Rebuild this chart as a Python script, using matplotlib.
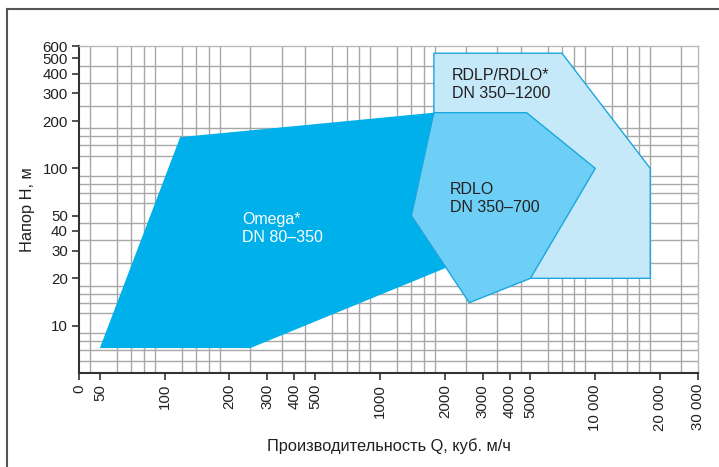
"""Pump selection chart: head vs flow for Omega, RDLO and RDLP/RDLO ranges."""

import matplotlib
matplotlib.use("Agg")
import matplotlib.pyplot as plt
from matplotlib.patches import Polygon
from matplotlib.lines import Line2D
from matplotlib.ticker import NullFormatter

plt.rcParams["font.family"] = ["Liberation Sans", "DejaVu Sans"]

# flow Q (m3/h) and head H (m) of each range outline
omega_q = [50, 250, 2230, 1780, 118]
omega_h = [7.2, 7.2, 24.6, 226, 158]

rdlo_q = [1780, 4800, 10000, 5000, 2600, 1400]
rdlo_h = [226, 226, 100, 20, 14, 50]

rdlp_q = [1780, 7000, 18000, 18000, 5000, 1780]
rdlp_h = [540, 540, 100, 20, 20, 226]

x_ticks = [40, 50, 100, 200, 300, 400, 500, 1000, 2000, 3000, 4000, 5000,
           10000, 20000, 30000]
x_labels = ["0", "50", "100", "200", "300", "400", "500", "1000", "2000",
            "3000", "4000", "5000", "10 000", "20 000", "30 000"]
y_ticks = [10, 20, 30, 40, 50, 100, 200, 300, 400, 500, 600]
y_labels = [str(v) for v in y_ticks]

x_grid = [45, 50, 60, 70, 80, 90, 100, 120, 140, 160, 180, 200, 250, 300,
          350, 400, 450, 500, 600, 700, 800, 900, 1000, 1200, 1400, 1600,
          1800, 2000, 2500, 3000, 3500, 4000, 4500, 5000, 6000, 7000, 8000,
          9000, 10000, 12000, 14000, 16000, 18000, 20000, 25000, 30000]
y_grid = [6, 7, 8, 9, 10, 12, 14, 16, 18, 20, 25, 30, 35, 40, 45, 50, 60,
          70, 80, 90, 100, 120, 140, 160, 180, 200, 250, 300, 350, 400, 450,
          500, 600]

text_col = "#231f20"
edge_col = "#1ba6df"

fig = plt.figure(figsize=(7.19, 4.67), dpi=100)
ax = fig.add_axes([79 / 719, 94 / 467, 619 / 719, 327 / 467])
ax.set_xscale("log")
ax.set_yscale("log")
ax.set_xlim(40, 30000)
ax.set_ylim(5, 600)

# grid
ax.set_xticks(x_grid, minor=True)
ax.set_yticks(y_grid, minor=True)
ax.xaxis.set_minor_formatter(NullFormatter())
ax.yaxis.set_minor_formatter(NullFormatter())
ax.grid(which="minor", color="#a8a8a8", linewidth=1.0, zorder=0)
ax.tick_params(which="minor", length=0)
ax.set_axisbelow(True)

ax.set_xticks(x_ticks)
ax.set_xticklabels(x_labels, rotation=90)
ax.set_yticks(y_ticks)
ax.set_yticklabels(y_labels)
ax.tick_params(which="major", length=5, width=1.2, color="#333333",
               labelsize=10.8, labelcolor=text_col, pad=3)

for s in ["top", "right"]:
    ax.spines[s].set_color("#b8b8b8")
    ax.spines[s].set_linewidth(1.0)
for s in ["left", "bottom"]:
    ax.spines[s].set_color("#333333")
    ax.spines[s].set_linewidth(1.5)

# ranges
ax.add_patch(Polygon(list(zip(rdlp_q, rdlp_h)), closed=True,
                     facecolor="#c6e9f9", edgecolor=edge_col, lw=1.0, zorder=2))
ax.add_patch(Polygon(list(zip(omega_q, omega_h)), closed=True,
                     facecolor="#00b0eb", edgecolor="none", zorder=3))
ax.add_patch(Polygon(list(zip(rdlo_q, rdlo_h)), closed=True,
                     facecolor="#6dcff6", edgecolor=edge_col, lw=1.0, zorder=4))

ax.text(0.263, 0.4425, "Omega*\nDN 80–350", transform=ax.transAxes,
        color="white", fontsize=11.5, va="center", ha="left", zorder=5,
        linespacing=1.25)
ax.text(0.602, 0.882, "RDLP/RDLO*\nDN 350–1200", transform=ax.transAxes,
        color=text_col, fontsize=11.5, va="center", ha="left", zorder=5,
        linespacing=1.25)
ax.text(0.599, 0.534, "RDLO\nDN 350–700", transform=ax.transAxes,
        color=text_col, fontsize=11.5, va="center", ha="left", zorder=5,
        linespacing=1.25)

ax.set_xlabel("Производительность Q, куб. м/ч", fontsize=11.8, color=text_col)
ax.set_ylabel("Напор H, м", fontsize=11.8, color=text_col)
ax.xaxis.set_label_coords(0.5, -0.199)
ax.yaxis.set_label_coords(-0.071, 0.5)

# outer frame (left and top edges only)
fig.add_artist(Line2D([7 / 719, 7 / 719], [0, 1 - 9 / 467],
                      color="#555555", lw=1.5))
fig.add_artist(Line2D([7 / 719, 1], [1 - 9 / 467, 1 - 9 / 467],
                      color="#555555", lw=1.5))

fig.savefig("out.png", dpi=100)
